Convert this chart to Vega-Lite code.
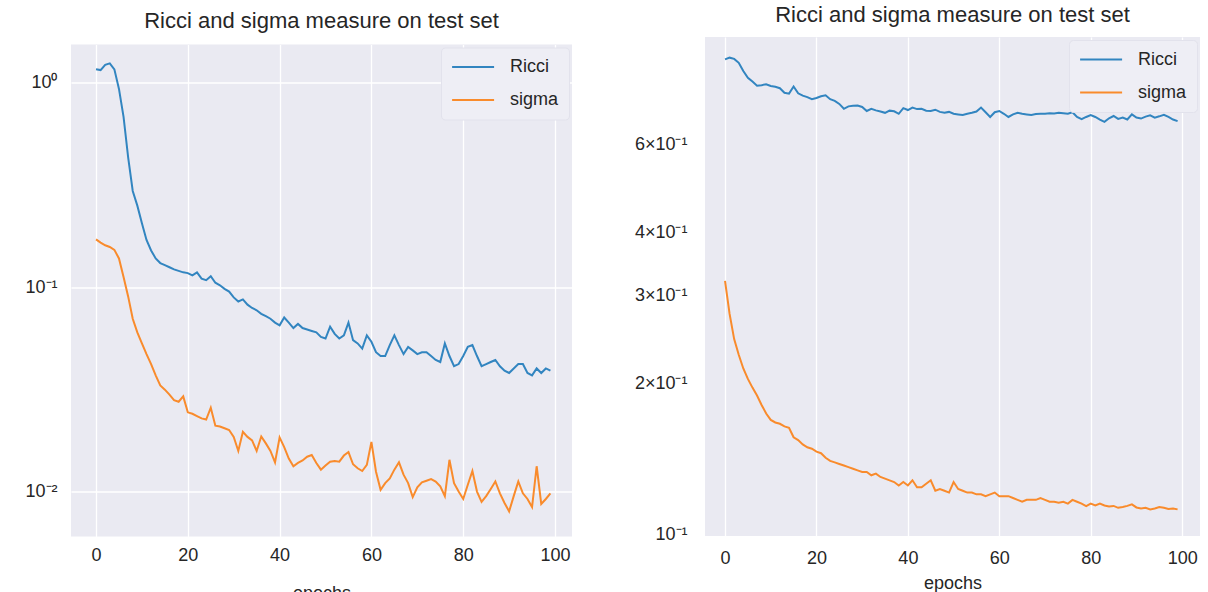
{
  "$schema": "https://vega.github.io/schema/vega-lite/v6.json",
  "background": "white",
  "padding": {"left": 24, "top": 4, "right": 0, "bottom": 0},
  "spacing": 62,
  "center": true,
  "datasets": {
    "left": [
      {"e":0,"Ricci":1.16,"sigma":0.171},{"e":1,"Ricci":1.15,"sigma":0.165},{"e":2,"Ricci":1.22,"sigma":0.160},{"e":3,"Ricci":1.24,"sigma":0.157},{"e":4,"Ricci":1.16,"sigma":0.152},
      {"e":5,"Ricci":0.93,"sigma":0.138},{"e":6,"Ricci":0.68,"sigma":0.112},{"e":7,"Ricci":0.43,"sigma":0.090},{"e":8,"Ricci":0.295,"sigma":0.070},{"e":9,"Ricci":0.25,"sigma":0.060},
      {"e":10,"Ricci":0.205,"sigma":0.053},{"e":11,"Ricci":0.17,"sigma":0.047},{"e":12,"Ricci":0.151,"sigma":0.042},{"e":13,"Ricci":0.138,"sigma":0.037},{"e":14,"Ricci":0.131,"sigma":0.033},
      {"e":15,"Ricci":0.128,"sigma":0.0315},{"e":16,"Ricci":0.125,"sigma":0.0298},{"e":17,"Ricci":0.122,"sigma":0.028},{"e":18,"Ricci":0.120,"sigma":0.0275},{"e":19,"Ricci":0.118,"sigma":0.0292},
      {"e":20,"Ricci":0.117,"sigma":0.0244},{"e":21,"Ricci":0.114,"sigma":0.024},{"e":22,"Ricci":0.118,"sigma":0.0234},{"e":23,"Ricci":0.110,"sigma":0.0228},{"e":24,"Ricci":0.108,"sigma":0.0225},
      {"e":25,"Ricci":0.113,"sigma":0.0257},{"e":26,"Ricci":0.105,"sigma":0.021},{"e":27,"Ricci":0.102,"sigma":0.0208},{"e":28,"Ricci":0.098,"sigma":0.0204},{"e":29,"Ricci":0.095,"sigma":0.020},
      {"e":30,"Ricci":0.089,"sigma":0.0185},{"e":31,"Ricci":0.085,"sigma":0.0158},{"e":32,"Ricci":0.087,"sigma":0.0196},{"e":33,"Ricci":0.082,"sigma":0.0185},{"e":34,"Ricci":0.079,"sigma":0.0178},
      {"e":35,"Ricci":0.077,"sigma":0.0158},{"e":36,"Ricci":0.074,"sigma":0.0186},{"e":37,"Ricci":0.072,"sigma":0.0172},{"e":38,"Ricci":0.070,"sigma":0.0158},{"e":39,"Ricci":0.067,"sigma":0.0139},
      {"e":40,"Ricci":0.065,"sigma":0.0184},{"e":41,"Ricci":0.071,"sigma":0.0165},{"e":42,"Ricci":0.067,"sigma":0.0145},{"e":43,"Ricci":0.063,"sigma":0.0133},{"e":44,"Ricci":0.066,"sigma":0.0138},
      {"e":45,"Ricci":0.063,"sigma":0.0142},{"e":46,"Ricci":0.062,"sigma":0.0148},{"e":47,"Ricci":0.061,"sigma":0.0151},{"e":48,"Ricci":0.060,"sigma":0.0138},{"e":49,"Ricci":0.057,"sigma":0.0128},
      {"e":50,"Ricci":0.056,"sigma":0.0134},{"e":51,"Ricci":0.064,"sigma":0.0140},{"e":52,"Ricci":0.059,"sigma":0.0141},{"e":53,"Ricci":0.056,"sigma":0.0140},{"e":54,"Ricci":0.058,"sigma":0.0150},
      {"e":55,"Ricci":0.067,"sigma":0.0156},{"e":56,"Ricci":0.055,"sigma":0.0136},{"e":57,"Ricci":0.053,"sigma":0.0130},{"e":58,"Ricci":0.050,"sigma":0.0126},{"e":59,"Ricci":0.058,"sigma":0.0135},
      {"e":60,"Ricci":0.054,"sigma":0.0175},{"e":61,"Ricci":0.048,"sigma":0.0125},{"e":62,"Ricci":0.046,"sigma":0.0102},{"e":63,"Ricci":0.046,"sigma":0.0110},{"e":64,"Ricci":0.052,"sigma":0.0116},
      {"e":65,"Ricci":0.058,"sigma":0.0128},{"e":66,"Ricci":0.052,"sigma":0.0139},{"e":67,"Ricci":0.047,"sigma":0.0121},{"e":68,"Ricci":0.051,"sigma":0.0110},{"e":69,"Ricci":0.049,"sigma":0.0094},
      {"e":70,"Ricci":0.047,"sigma":0.0105},{"e":71,"Ricci":0.048,"sigma":0.0111},{"e":72,"Ricci":0.048,"sigma":0.0113},{"e":73,"Ricci":0.046,"sigma":0.0115},{"e":74,"Ricci":0.044,"sigma":0.0112},
      {"e":75,"Ricci":0.043,"sigma":0.0106},{"e":76,"Ricci":0.053,"sigma":0.0095},{"e":77,"Ricci":0.046,"sigma":0.0143},{"e":78,"Ricci":0.041,"sigma":0.0110},{"e":79,"Ricci":0.042,"sigma":0.0100},
      {"e":80,"Ricci":0.046,"sigma":0.0092},{"e":81,"Ricci":0.051,"sigma":0.0108},{"e":82,"Ricci":0.052,"sigma":0.0126},{"e":83,"Ricci":0.046,"sigma":0.0100},{"e":84,"Ricci":0.041,"sigma":0.0089},
      {"e":85,"Ricci":0.042,"sigma":0.0095},{"e":86,"Ricci":0.043,"sigma":0.0103},{"e":87,"Ricci":0.044,"sigma":0.0112},{"e":88,"Ricci":0.041,"sigma":0.0098},{"e":89,"Ricci":0.039,"sigma":0.0088},
      {"e":90,"Ricci":0.038,"sigma":0.0080},{"e":91,"Ricci":0.040,"sigma":0.0095},{"e":92,"Ricci":0.042,"sigma":0.0112},{"e":93,"Ricci":0.042,"sigma":0.0098},{"e":94,"Ricci":0.038,"sigma":0.0092},
      {"e":95,"Ricci":0.037,"sigma":0.0084},{"e":96,"Ricci":0.040,"sigma":0.0133},{"e":97,"Ricci":0.038,"sigma":0.0087},{"e":98,"Ricci":0.040,"sigma":0.0092},{"e":99,"Ricci":0.039,"sigma":0.0098}
    ],
    "right": [
      {"e":0,"Ricci":0.886,"sigma":0.320},{"e":1,"Ricci":0.893,"sigma":0.275},{"e":2,"Ricci":0.888,"sigma":0.245},{"e":3,"Ricci":0.872,"sigma":0.228},{"e":4,"Ricci":0.840,"sigma":0.214},
      {"e":5,"Ricci":0.814,"sigma":0.204},{"e":6,"Ricci":0.800,"sigma":0.196},{"e":7,"Ricci":0.785,"sigma":0.189},{"e":8,"Ricci":0.787,"sigma":0.181},{"e":9,"Ricci":0.790,"sigma":0.174},
      {"e":10,"Ricci":0.784,"sigma":0.169},{"e":11,"Ricci":0.781,"sigma":0.167},{"e":12,"Ricci":0.776,"sigma":0.166},{"e":13,"Ricci":0.760,"sigma":0.164},{"e":14,"Ricci":0.757,"sigma":0.163},
      {"e":15,"Ricci":0.782,"sigma":0.156},{"e":16,"Ricci":0.758,"sigma":0.154},{"e":17,"Ricci":0.750,"sigma":0.151},{"e":18,"Ricci":0.745,"sigma":0.149},{"e":19,"Ricci":0.738,"sigma":0.148},
      {"e":20,"Ricci":0.742,"sigma":0.146},{"e":21,"Ricci":0.748,"sigma":0.145},{"e":22,"Ricci":0.751,"sigma":0.142},{"e":23,"Ricci":0.738,"sigma":0.140},{"e":24,"Ricci":0.732,"sigma":0.139},
      {"e":25,"Ricci":0.722,"sigma":0.138},{"e":26,"Ricci":0.706,"sigma":0.137},{"e":27,"Ricci":0.714,"sigma":0.136},{"e":28,"Ricci":0.716,"sigma":0.135},{"e":29,"Ricci":0.717,"sigma":0.134},
      {"e":30,"Ricci":0.712,"sigma":0.133},{"e":31,"Ricci":0.699,"sigma":0.133},{"e":32,"Ricci":0.706,"sigma":0.131},{"e":33,"Ricci":0.701,"sigma":0.132},{"e":34,"Ricci":0.697,"sigma":0.130},
      {"e":35,"Ricci":0.693,"sigma":0.129},{"e":36,"Ricci":0.700,"sigma":0.128},{"e":37,"Ricci":0.698,"sigma":0.127},{"e":38,"Ricci":0.690,"sigma":0.125},{"e":39,"Ricci":0.708,"sigma":0.127},
      {"e":40,"Ricci":0.702,"sigma":0.125},{"e":41,"Ricci":0.710,"sigma":0.128},{"e":42,"Ricci":0.705,"sigma":0.124},{"e":43,"Ricci":0.706,"sigma":0.124},{"e":44,"Ricci":0.700,"sigma":0.126},
      {"e":45,"Ricci":0.699,"sigma":0.128},{"e":46,"Ricci":0.703,"sigma":0.122},{"e":47,"Ricci":0.696,"sigma":0.123},{"e":48,"Ricci":0.693,"sigma":0.122},{"e":49,"Ricci":0.696,"sigma":0.121},
      {"e":50,"Ricci":0.690,"sigma":0.127},{"e":51,"Ricci":0.688,"sigma":0.123},{"e":52,"Ricci":0.686,"sigma":0.122},{"e":53,"Ricci":0.690,"sigma":0.121},{"e":54,"Ricci":0.693,"sigma":0.121},
      {"e":55,"Ricci":0.697,"sigma":0.120},{"e":56,"Ricci":0.710,"sigma":0.120},{"e":57,"Ricci":0.695,"sigma":0.119},{"e":58,"Ricci":0.680,"sigma":0.120},{"e":59,"Ricci":0.695,"sigma":0.121},
      {"e":60,"Ricci":0.699,"sigma":0.119},{"e":61,"Ricci":0.690,"sigma":0.119},{"e":62,"Ricci":0.680,"sigma":0.119},{"e":63,"Ricci":0.688,"sigma":0.118},{"e":64,"Ricci":0.693,"sigma":0.117},
      {"e":65,"Ricci":0.690,"sigma":0.116},{"e":66,"Ricci":0.688,"sigma":0.117},{"e":67,"Ricci":0.686,"sigma":0.117},{"e":68,"Ricci":0.689,"sigma":0.117},{"e":69,"Ricci":0.690,"sigma":0.118},
      {"e":70,"Ricci":0.690,"sigma":0.117},{"e":71,"Ricci":0.692,"sigma":0.116},{"e":72,"Ricci":0.691,"sigma":0.116},{"e":73,"Ricci":0.693,"sigma":0.1155},{"e":74,"Ricci":0.692,"sigma":0.116},
      {"e":75,"Ricci":0.690,"sigma":0.115},{"e":76,"Ricci":0.695,"sigma":0.117},{"e":77,"Ricci":0.680,"sigma":0.116},{"e":78,"Ricci":0.673,"sigma":0.115},{"e":79,"Ricci":0.680,"sigma":0.1137},
      {"e":80,"Ricci":0.686,"sigma":0.115},{"e":81,"Ricci":0.680,"sigma":0.114},{"e":82,"Ricci":0.672,"sigma":0.115},{"e":83,"Ricci":0.665,"sigma":0.114},{"e":84,"Ricci":0.676,"sigma":0.1135},
      {"e":85,"Ricci":0.683,"sigma":0.1138},{"e":86,"Ricci":0.674,"sigma":0.1128},{"e":87,"Ricci":0.678,"sigma":0.1132},{"e":88,"Ricci":0.672,"sigma":0.1138},{"e":89,"Ricci":0.688,"sigma":0.1146},
      {"e":90,"Ricci":0.678,"sigma":0.113},{"e":91,"Ricci":0.675,"sigma":0.1125},{"e":92,"Ricci":0.681,"sigma":0.1128},{"e":93,"Ricci":0.685,"sigma":0.112},{"e":94,"Ricci":0.678,"sigma":0.1125},
      {"e":95,"Ricci":0.682,"sigma":0.1132},{"e":96,"Ricci":0.687,"sigma":0.1128},{"e":97,"Ricci":0.680,"sigma":0.1122},{"e":98,"Ricci":0.672,"sigma":0.1125},{"e":99,"Ricci":0.667,"sigma":0.112}
    ]
  },
  "config": {
    "view": {"fill": "#EAEAF2", "stroke": null},
    "font": "Liberation Sans",
    "axis": {
      "domain": false, "ticks": false, "gridColor": "#FFFFFF", "gridWidth": 1.3, "gridOpacity": 1,
      "labelFont": "Liberation Sans", "labelFontSize": 18, "labelColor": "#262626",
      "titleFont": "Liberation Sans", "titleFontSize": 18, "titleFontWeight": "normal", "titleColor": "#262626"
    },
    "title": {"font": "Liberation Sans", "fontSize": 22, "fontWeight": "normal", "color": "#262626", "anchor": "middle", "frame": "group"},
    "legend": {
      "orient": "top-right", "offset": 3,
      "labelFont": "Liberation Sans", "labelFontSize": 18, "labelColor": "#262626",
      "symbolType": "M-1,0H4", "symbolStrokeWidth": 2, "symbolSize": 282,
      "fillColor": "#EEEEF5", "strokeColor": "#E2E2EC", "cornerRadius": 4, "padding": 10,
      "labelOffset": 40, "rowPadding": 14
    }
  },
  "hconcat": [
    {
      "data": {"name": "left"},
      "transform": [{"fold": ["Ricci", "sigma"], "as": ["series", "value"]}],
      "title": {"text": "Ricci and sigma measure on test set", "offset": 12},
      "width": 501,
      "height": 492,
      "mark": {"type": "line", "strokeWidth": 2, "clip": true},
      "encoding": {
        "x": {"field": "e", "type": "quantitative", "title": "epochs",
              "scale": {"domain": [-5.45, 103.7], "nice": false, "zero": false},
              "axis": {"values": [0, 20, 40, 60, 80, 100], "labelPadding": 10, "titlePadding": 20, "labelFlush": false}},
        "y": {"field": "value", "type": "quantitative", "title": null,
              "scale": {"type": "log", "domain": [0.00603, 1.534], "nice": false},
              "axis": {"values": [0.01, 0.1, 1], "labelPadding": 14,
                       "labelExpr": "datum.value >= 0.5 ? '10\u2070' : (datum.value >= 0.05 ? '10\u207b\u00b9' : '10\u207b\u00b2')"}},
        "color": {"field": "series", "type": "nominal",
                  "scale": {"domain": ["Ricci", "sigma"], "range": ["#3285c0", "#f98b2c"]},
                  "legend": {"title": null}}
      }
    },
    {
      "data": {"name": "right"},
      "transform": [{"fold": ["Ricci", "sigma"], "as": ["series", "value"]}],
      "title": {"text": "Ricci and sigma measure on test set", "offset": 10},
      "width": 495,
      "height": 499,
      "mark": {"type": "line", "strokeWidth": 2, "clip": true},
      "encoding": {
        "x": {"field": "e", "type": "quantitative", "title": ["epochs", " "],
              "scale": {"domain": [-4.38, 103.9], "nice": false, "zero": false},
              "axis": {"values": [0, 20, 40, 60, 80, 100], "labelPadding": 13, "titlePadding": 7, "titleLineHeight": 18, "labelFlush": false}},
        "y": {"field": "value", "type": "quantitative", "title": null,
              "scale": {"type": "log", "domain": [0.0991, 0.982], "nice": false},
              "axis": {"values": [0.1, 0.2, 0.3, 0.4, 0.6], "grid": false, "labelPadding": 18,
                       "labelExpr": "datum.value < 0.15 ? '10\u207b\u00b9' : (datum.value < 0.25 ? '2\u00d710\u207b\u00b9' : (datum.value < 0.35 ? '3\u00d710\u207b\u00b9' : (datum.value < 0.5 ? '4\u00d710\u207b\u00b9' : '6\u00d710\u207b\u00b9')))"}},
        "color": {"field": "series", "type": "nominal",
                  "scale": {"domain": ["Ricci", "sigma"], "range": ["#3285c0", "#f98b2c"]},
                  "legend": {"title": null}}
      }
    }
  ],
  "resolve": {"scale": {"color": "independent", "x": "independent", "y": "independent"}, "legend": {"color": "independent"}}
}
